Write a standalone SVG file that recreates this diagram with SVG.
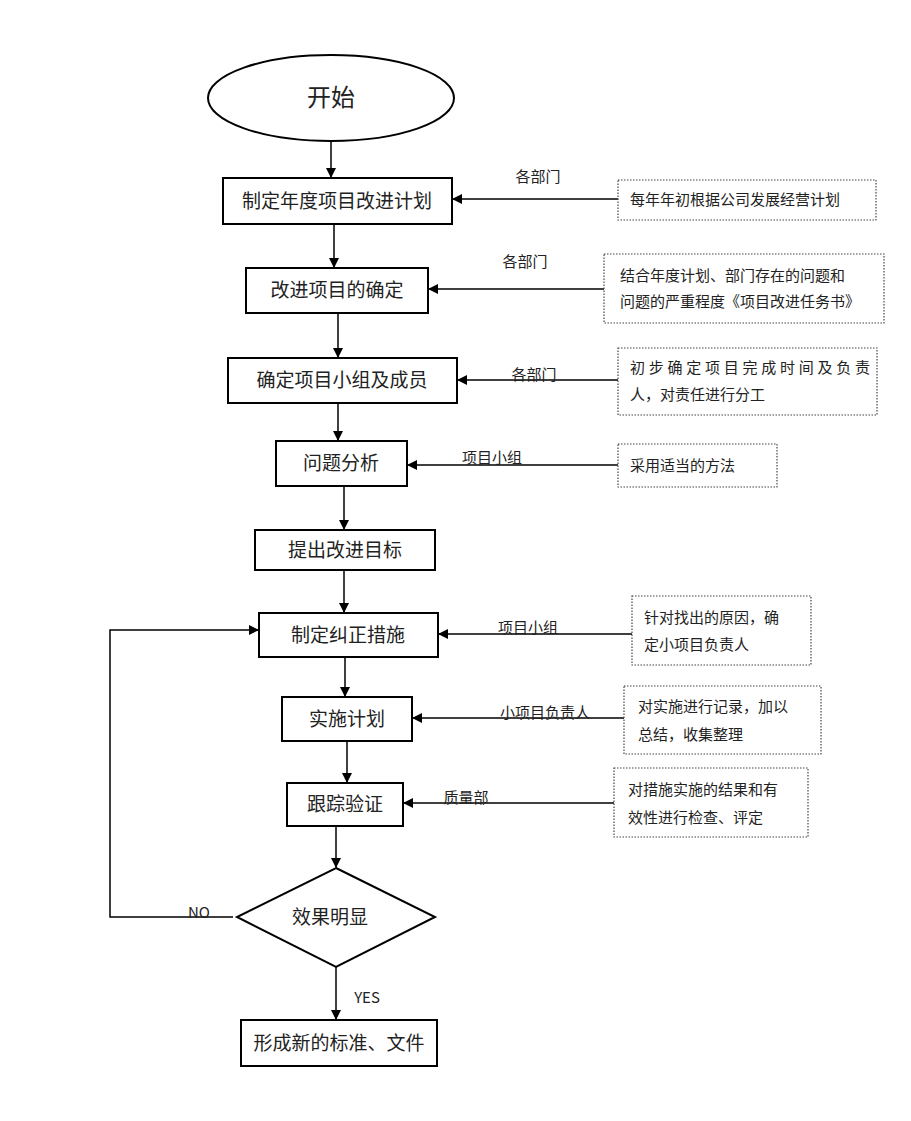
<svg xmlns="http://www.w3.org/2000/svg" width="911" height="1121" viewBox="0 0 911 1121">
<style>
.b{fill:#fff;stroke:#000;stroke-width:2}
.d{fill:#fff;stroke:#444;stroke-width:1.2;stroke-dasharray:1.5 1.5}
.l{stroke:#000;stroke-width:1.5;fill:none}
text{font-family:"Noto Sans CJK SC","Liberation Serif",serif;fill:#222}
.m{font-size:19px;text-anchor:middle}
.s{font-size:15px}
</style>
<defs><marker id="a" markerWidth="10" markerHeight="10" refX="9" refY="5" orient="auto" markerUnits="userSpaceOnUse"><path d="M0,0 L10,5 L0,10 z" fill="#000"/></marker></defs>
<rect width="911" height="1121" fill="#fff"/>
<g id="connectors">
<line class="l" x1="331" y1="141" x2="331" y2="177" marker-end="url(#a)"/>
<line class="l" x1="334" y1="224" x2="334" y2="267" marker-end="url(#a)"/>
<line class="l" x1="338" y1="313" x2="338" y2="357" marker-end="url(#a)"/>
<line class="l" x1="338" y1="403" x2="338" y2="440" marker-end="url(#a)"/>
<line class="l" x1="344" y1="486" x2="344" y2="529" marker-end="url(#a)"/>
<line class="l" x1="344" y1="570" x2="344" y2="612" marker-end="url(#a)"/>
<line class="l" x1="345" y1="657" x2="345" y2="696" marker-end="url(#a)"/>
<line class="l" x1="347" y1="741" x2="347" y2="782" marker-end="url(#a)"/>
<line class="l" x1="336" y1="826" x2="336" y2="867" marker-end="url(#a)"/>
<line class="l" x1="336" y1="967" x2="336" y2="1019" marker-end="url(#a)"/>
<line class="l" x1="618" y1="199" x2="453" y2="199" marker-end="url(#a)"/>
<line class="l" x1="604" y1="289" x2="429" y2="289" marker-end="url(#a)"/>
<line class="l" x1="618" y1="380" x2="458" y2="380" marker-end="url(#a)"/>
<line class="l" x1="618" y1="465" x2="408" y2="465" marker-end="url(#a)"/>
<line class="l" x1="632" y1="634" x2="439" y2="634" marker-end="url(#a)"/>
<line class="l" x1="624" y1="718" x2="413" y2="718" marker-end="url(#a)"/>
<line class="l" x1="614" y1="803" x2="404" y2="803" marker-end="url(#a)"/>
<polyline class="l" points="233,917 110,917 110,630 258,630" marker-end="url(#a)"/>
<text class="s" x="538" y="182" text-anchor="middle">各部门</text>
<text class="s" x="525" y="267" text-anchor="middle">各部门</text>
<text class="s" x="534" y="380" text-anchor="middle">各部门</text>
<text class="s" x="492" y="463" text-anchor="middle">项目小组</text>
<text class="s" x="528" y="633" text-anchor="middle">项目小组</text>
<text class="s" x="545" y="718" text-anchor="middle">小项目负责人</text>
<text class="s" x="466" y="803" text-anchor="middle">质量部</text>
<text class="s" x="199" y="918" text-anchor="middle">NO</text>
<text class="s" x="367" y="1003" text-anchor="middle">YES</text>
</g>
<g id="start"><ellipse class="b" cx="331" cy="98" rx="123" ry="43"/><text x="331" y="106" font-size="24" text-anchor="middle">开始</text></g>
<g id="n1"><rect class="b" x="223" y="178" width="229" height="46"/><text class="m" x="337" y="208">制定年度项目改进计划</text></g>
<g id="n2"><rect class="b" x="246" y="268" width="182" height="45"/><text class="m" x="337" y="297">改进项目的确定</text></g>
<g id="n3"><rect class="b" x="228" y="358" width="229" height="45"/><text class="m" x="342" y="387">确定项目小组及成员</text></g>
<g id="n4"><rect class="b" x="276" y="441" width="131" height="45"/><text class="m" x="341" y="470">问题分析</text></g>
<g id="n5"><rect class="b" x="255" y="530" width="180" height="40"/><text class="m" x="345" y="557">提出改进目标</text></g>
<g id="n6"><rect class="b" x="259" y="613" width="179" height="44"/><text class="m" x="348" y="642">制定纠正措施</text></g>
<g id="n7"><rect class="b" x="282" y="697" width="130" height="44"/><text class="m" x="347" y="726">实施计划</text></g>
<g id="n8"><rect class="b" x="287" y="783" width="116" height="43"/><text class="m" x="345" y="811">跟踪验证</text></g>
<g id="dec"><polygon class="b" points="336,868 435,917 336,967 237,917"/><text class="m" x="330" y="924">效果明显</text></g>
<g id="n9"><rect class="b" x="241" y="1020" width="196" height="46"/><text class="m" x="339" y="1050">形成新的标准、文件</text></g>
<g id="r1"><rect class="d" x="618" y="180" width="258" height="40"/><text class="s" x="630" y="205">每年年初根据公司发展经营计划</text></g>
<g id="r2"><rect class="d" x="604" y="254" width="280" height="69"/><text class="s" x="620" y="281">结合年度计划、部门存在的问题和</text><text class="s" x="620" y="307">问题的严重程度《项目改进任务书》</text></g>
<g id="r3"><rect class="d" x="618" y="348" width="259" height="67"/><text class="s" x="630" y="373" textLength="240">初步确定项目完成时间及负责</text><text class="s" x="630" y="400">人，对责任进行分工</text></g>
<g id="r4"><rect class="d" x="618" y="444" width="159" height="43"/><text class="s" x="630" y="471">采用适当的方法</text></g>
<g id="r5"><rect class="d" x="632" y="596" width="179" height="69"/><text class="s" x="644" y="623">针对找出的原因，确</text><text class="s" x="644" y="650">定小项目负责人</text></g>
<g id="r6"><rect class="d" x="624" y="686" width="197" height="68"/><text class="s" x="638" y="712">对实施进行记录，加以</text><text class="s" x="638" y="740">总结，收集整理</text></g>
<g id="r7"><rect class="d" x="614" y="768" width="194" height="69"/><text class="s" x="628" y="795">对措施实施的结果和有</text><text class="s" x="628" y="823">效性进行检查、评定</text></g>
</svg>
